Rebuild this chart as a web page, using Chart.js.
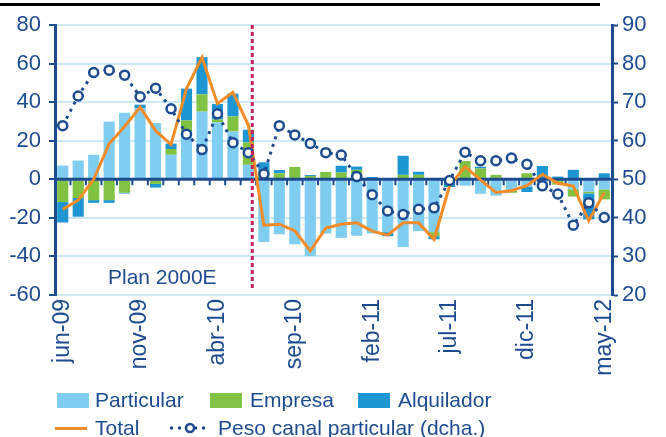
<!DOCTYPE html>
<html lang="es">
<head>
<meta charset="UTF-8">
<title>Matriculaciones por canal</title>
<script src="https://cdn.jsdelivr.net/npm/chart.js"></script>
<style>
    body { margin: 0; background: #fff; font-family: "Liberation Sans", Arial, sans-serif; }
    #wrap { position: relative; width: 666px; height: 437px; overflow: hidden; }
    #topline { position: absolute; left: 0; top: 3px; width: 600px; height: 3px; background: #000; }
    canvas { position: absolute; left: 0; top: 0; }
    .lg { position: absolute; font-size: 21px; line-height: 22px; color: #1c4b8f; white-space: nowrap; }
    .box { position: absolute; width: 32px; height: 15px; }
    .plan { position: absolute; left: 108px; top: 265px; font-size: 21px; color: #1c4b8f; }
</style>
</head>
<body>
<div id="wrap">
    <div id="topline"></div>
    <canvas id="chart" width="666" height="437"></canvas>
    <div class="plan">Plan 2000E</div>

    <div class="box" style="left:57px;top:393px;background:#80CDF2"></div>
    <div class="lg" style="left:95px;top:389px">Particular</div>
    <div class="box" style="left:210px;top:393px;background:#80C241"></div>
    <div class="lg" style="left:250px;top:389px">Empresa</div>
    <div class="box" style="left:358px;top:393px;background:#1E96D3"></div>
    <div class="lg" style="left:398px;top:389px">Alquilador</div>

    <div class="box" style="left:55px;top:427px;height:3px;background:#F28C28"></div>
    <div class="lg" style="left:95px;top:417px">Total</div>
    <svg style="position:absolute;left:168px;top:420px" width="44" height="16">
        <line x1="2" y1="8" x2="42" y2="8" stroke="#1c4b8f" stroke-width="3" stroke-dasharray="3,5"/>
        <circle cx="22" cy="8" r="4" fill="#fff" stroke="#1c4b8f" stroke-width="2.5"/>
    </svg>
    <div class="lg" style="left:218px;top:417px">Peso canal particular (dcha.)</div>
</div>
<script>
// meses jun-09 .. may-12
const months = ['jun-09','jul-09','ago-09','sep-09','oct-09','nov-09','dic-09','ene-10','feb-10','mar-10','abr-10','may-10',
                'jun-10','jul-10','ago-10','sep-10','oct-10','nov-10','dic-10','ene-11','feb-11','mar-11','abr-11','may-11',
                'jun-11','jul-11','ago-11','sep-11','oct-11','nov-11','dic-11','ene-12','feb-12','mar-12','abr-12','may-12'];

const particular = [7.1, 9.7, 12.7, 29.9, 34.5, 36.8, 29.2, 12.7, 24.8, 35.1, 29.5, 24.8,
                    7.5, -32.5, -28.5, -33.7, -39.8, -28.1, -30.4, -29.3, -28.1, -27.4, -35.2, -26.9,
                    -27.4, -1, -3.3, -7.5, -8.5, -6, -3.8, -1.5, 0, -5.2, -6.4, -5.2];
const empresa = [-11.8, -9.7, -10.8, -10.8, -6.9, 0, -2.4, 3.0, 5.7, 8.9, 1.5, 7.8,
                 11.6, 4.5, 3.1, 6.4, 1.7, 3.8, 3.5, 4.9, 0, 0, 2.3, 2.3,
                 -2.1, 0, 9.5, 5.6, 2.3, -1, 3.1, -2.5, -2.8, -3.8, -0.9, -5.2];
const alquilador = [-10.6, -9.7, -1.4, -1.4, -0.5, 1.9, -1.9, 2.8, 16.5, 19.3, 8, 11.8,
                    6.6, 4.3, 1.7, 0, 0.5, 0, 3.5, 1.7, 1.2, -2.1, 9.9, 1.6,
                    -1.6, -3, 0, 0.9, 0, 0, -2.8, 6.9, 1.4, 4.9, -13.5, 3.1];
const total = [-15.6, -10.8, 0, 18.4, 27.4, 37.5, 25.2, 18.0, 47.0, 63.2, 39.2, 45.1,
               28, -23.8, -23.3, -26.7, -37.2, -25.3, -23.3, -22.6, -26.9, -29, -22.6, -22.6,
               -31.2, -3.5, 6.6, -0.3, -6.8, -5.9, -3.3, 2.6, -2.1, -3.5, -21.5, -6.9];
const pesoParticular = [63.9, 71.6, 77.7, 78.3, 77.0, 71.4, 73.6, 68.3, 61.7, 57.7, 67.0, 59.5,
                        56.9, 51.4, 63.9, 61.5, 59.3, 56.9, 56.3, 50.7, 46.0, 41.8, 40.9, 42.2,
                        42.6, 49.7, 57.0, 54.8, 54.8, 55.5, 53.9, 48.3, 46.2, 38.1, 43.9, 40.1];

const planEnd = 12.25; // fin del Plan 2000E (entre jun-10 y jul-10)

const NAVY = '#1c4b8f';
const FONT = '"Liberation Sans", Arial, sans-serif';

// linea del cero por encima de las barras, con marcas en cada mes
const zeroLine = {
    id: 'zeroLine',
    afterDatasetDraw(chart, args) {
        if (args.index !== 0) return;
        const { ctx, chartArea, scales } = chart;
        const y0 = scales.y.getPixelForValue(0);
        ctx.save();
        ctx.strokeStyle = NAVY;
        ctx.lineWidth = 3;
        ctx.beginPath();
        ctx.moveTo(chartArea.left, y0);
        ctx.lineTo(chartArea.right, y0);
        ctx.stroke();
        ctx.lineWidth = 2;
        for (let i = 0; i <= months.length; i++) {
            const x = scales.x.getPixelForValue(i - 0.5);
            ctx.beginPath();
            ctx.moveTo(x, y0);
            ctx.lineTo(x, y0 + 6);
            ctx.stroke();
        }
        ctx.restore();
    }
};

const planLine = {
    id: 'planLine',
    afterDatasetsDraw(chart) {
        const { ctx, chartArea, scales } = chart;
        const x = scales.x.getPixelForValue(planEnd);
        ctx.save();
        ctx.strokeStyle = '#C8205A';
        ctx.lineWidth = 3;
        ctx.setLineDash([4, 3]);
        ctx.beginPath();
        ctx.moveTo(x, chartArea.top);
        ctx.lineTo(x, chartArea.bottom - 4);
        ctx.stroke();
        ctx.restore();
    }
};

new Chart(document.getElementById('chart'), {
    type: 'bar',
    data: {
        labels: months,
        datasets: [
            { label: 'Particular', data: particular, backgroundColor: '#80CDF2', stack: 'canal', order: 2,
              barPercentage: 0.72, categoryPercentage: 1 },
            { label: 'Empresa', data: empresa, backgroundColor: '#80C241', stack: 'canal', order: 2,
              barPercentage: 0.72, categoryPercentage: 1 },
            { label: 'Alquilador', data: alquilador, backgroundColor: '#1E96D3', stack: 'canal', order: 2,
              barPercentage: 0.72, categoryPercentage: 1 },
            { type: 'line', label: 'Total', data: total, borderColor: '#F28C28', borderWidth: 3,
              pointRadius: 0, tension: 0, stack: 'total', order: 1 },
            { type: 'line', label: 'Peso canal particular (dcha.)', data: pesoParticular, yAxisID: 'y1',
              borderColor: NAVY, borderWidth: 3, borderDash: [3, 5], pointRadius: 4.5, pointBorderWidth: 2.5,
              pointBackgroundColor: '#fff', pointBorderColor: NAVY, tension: 0, order: 0 }
        ]
    },
    options: {
        responsive: false,
        devicePixelRatio: 1,
        animation: false,
        layout: { padding: { top: 25, left: 0, right: 0, bottom: 0 } },
        plugins: { legend: { display: false }, tooltip: { enabled: false } },
        scales: {
            x: {
                stacked: true,
                offset: true,
                grid: { display: false, drawTicks: false },
                border: { display: false },
                ticks: {
                    autoSkip: false, minRotation: 90, maxRotation: 90, padding: 4,
                    color: NAVY, font: { family: FONT, size: 23 },
                    callback: (v, i) => (i % 5 === 0 ? months[i] : '')
                },
                afterFit: (s) => { s.height = 142; }
            },
            y: {
                stacked: true,
                position: 'left',
                min: -60, max: 80,
                ticks: { stepSize: 20, color: NAVY, padding: 8, font: { family: FONT, size: 22 } },
                grid: {
                    color: (c) => (c.tick.value === 0 ? 'rgba(0,0,0,0)' : '#CDE9F7'),
                    lineWidth: 2,
                    tickColor: NAVY, tickLength: 6, tickWidth: 2
                },
                border: { color: NAVY, width: 3 },
                afterFit: (s) => { s.width = 55; }
            },
            y1: {
                position: 'right',
                min: 20, max: 90,
                ticks: { stepSize: 10, color: NAVY, padding: 4, font: { family: FONT, size: 22 } },
                grid: { drawOnChartArea: false, tickColor: NAVY, tickLength: 6, tickWidth: 2 },
                border: { color: NAVY, width: 3 },
                afterFit: (s) => { s.width = 54; }
            }
        }
    },
    plugins: [zeroLine, planLine]
});
</script>
</body>
</html>
